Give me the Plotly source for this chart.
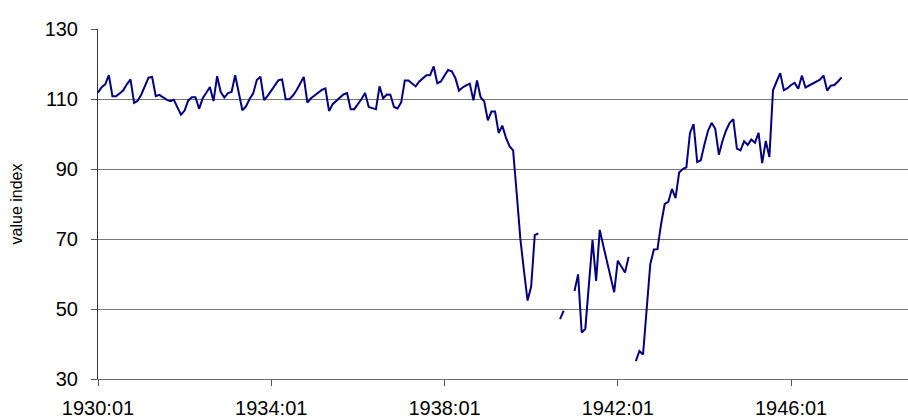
import plotly.graph_objects as go
import pandas as pd

# Monthly categories 1930:01 .. 1947:03
months = pd.period_range("1930-01", periods=207, freq="M").strftime("%Y:%m").tolist()

value_index = [
    111.8, 113.4, 114.2, 116.8, 110.8, 110.8, 111.6, 112.5, 114.2, 115.6,   # 0-9
    108.9, 109.5, 111.3, 113.9, 116.1, 116.3, 110.8, 111.2, 110.4, 109.8,   # 10-19
    109.4, 109.8, 107.6, 105.5, 106.7, 109.6, 110.5, 110.5, 107.2, 110.2,   # 20-29
    111.8, 113.4, 109.4, 116.5, 112.0, 110.4, 111.7, 112.0, 116.8, 111.8,   # 30-39
    106.8, 107.9, 110.0, 111.6, 115.4, 116.4, 109.7, 110.9, 112.5, 114.0,   # 40-49
    115.4, 115.6, 109.9, 109.9, 111.0, 112.5, 114.4, 116.3, 109.0, 110.2,   # 50-59
    111.0, 111.8, 112.6, 113.0, 106.6, 108.5, 109.5, 110.5, 111.3, 111.7,   # 60-69
    107.1, 107.1, 108.5, 110.0, 111.7, 107.7, 107.4, 107.1, 113.6, 110.2,   # 70-79
    111.3, 111.2, 107.7, 107.3, 109.1, 115.3, 115.3, 114.5, 113.6, 115.0,   # 80-89
    116.0, 116.8, 116.8, 119.3, 114.5, 115.0, 116.7, 118.3, 117.9, 116.0,   # 90-99
    112.4, 113.3, 113.9, 114.4, 109.6, 115.3, 110.5, 109.3, 103.9, 106.4,   # 100-109
    106.4, 100.3, 102.4, 99.0, 96.5, 95.3, 83.0, 70.1, 61.0, 52.4,          # 110-119
    56.4, 71.1, 71.6, None, None, None, None, None, 47.1, 49.5,             # 120-129
    None, None, 55.1, 59.9, 43.3, 44.3, 57.0, 69.7, 58.0, 72.6,             # 130-139
    68.0, 63.5, 59.0, 54.8, 63.8, 62.0, 60.4, 64.9, None, 35.1,             # 140-149
    38.0, 37.0, 50.0, 62.8, 67.0, 67.1, 74.3, 80.0, 80.6, 84.3,             # 150-159
    81.7, 89.0, 90.0, 90.5, 100.3, 102.8, 92.0, 92.5, 97.0, 100.9,          # 160-169
    103.2, 101.5, 94.1, 98.0, 101.0, 103.2, 104.2, 95.8, 95.3, 97.9,        # 170-179
    96.9, 98.4, 97.5, 100.3, 91.7, 98.0, 93.4, 112.5, 115.0, 117.4,         # 180-189
    112.5, 113.1, 114.0, 114.6, 112.9, 116.7, 113.3, 113.8, 114.3, 115.0,   # 190-199
    115.5, 116.7, 112.4, 113.8, 114.0, 115.0, 116.2,                        # 200-206
]

x_tick_labels = ["1930:01", "1934:01", "1938:01", "1942:01", "1946:01"]
y_tick_values = [30, 50, 70, 90, 110, 130]

fig = go.Figure()
fig.add_trace(go.Scatter(
    x=months, y=value_index, mode="lines",
    line=dict(color="#000080", width=2),
    connectgaps=False, showlegend=False,
))

font_family = "Liberation Sans, Arial, sans-serif"

fig.update_layout(
    width=908, height=419,
    margin=dict(l=98, r=0, t=29, b=40, autoexpand=False),
    paper_bgcolor="white", plot_bgcolor="white",
    font=dict(family=font_family, color="black"),
    xaxis=dict(
        type="category",
        range=[0, 224.4],
        tickmode="array", tickvals=x_tick_labels, ticktext=x_tick_labels,
        ticks="outside", ticklen=6, tickcolor="#555555", tickwidth=1,
        ticklabelstandoff=5,
        showgrid=False, zeroline=False,
        showline=True, linecolor="#707070", linewidth=1,
        tickfont=dict(size=20, family=font_family),
    ),
    yaxis=dict(
        range=[30, 130],
        tickmode="array", tickvals=y_tick_values,
        ticks="outside", ticklen=6, tickcolor="#555555", tickwidth=1,
        ticklabelstandoff=9,
        showgrid=True, gridcolor="#777777", gridwidth=1,
        zeroline=False,
        showline=True, linecolor="#333333", linewidth=1,
        tickfont=dict(size=20, family=font_family),
        title=dict(text="value index", font=dict(size=16, family=font_family), standoff=18),
    ),
)

fig.write_html(
    "out.html",
    config={"displayModeBar": False},
    post_script="document.body.style.margin='0px';document.body.style.overflow='hidden';",
)
